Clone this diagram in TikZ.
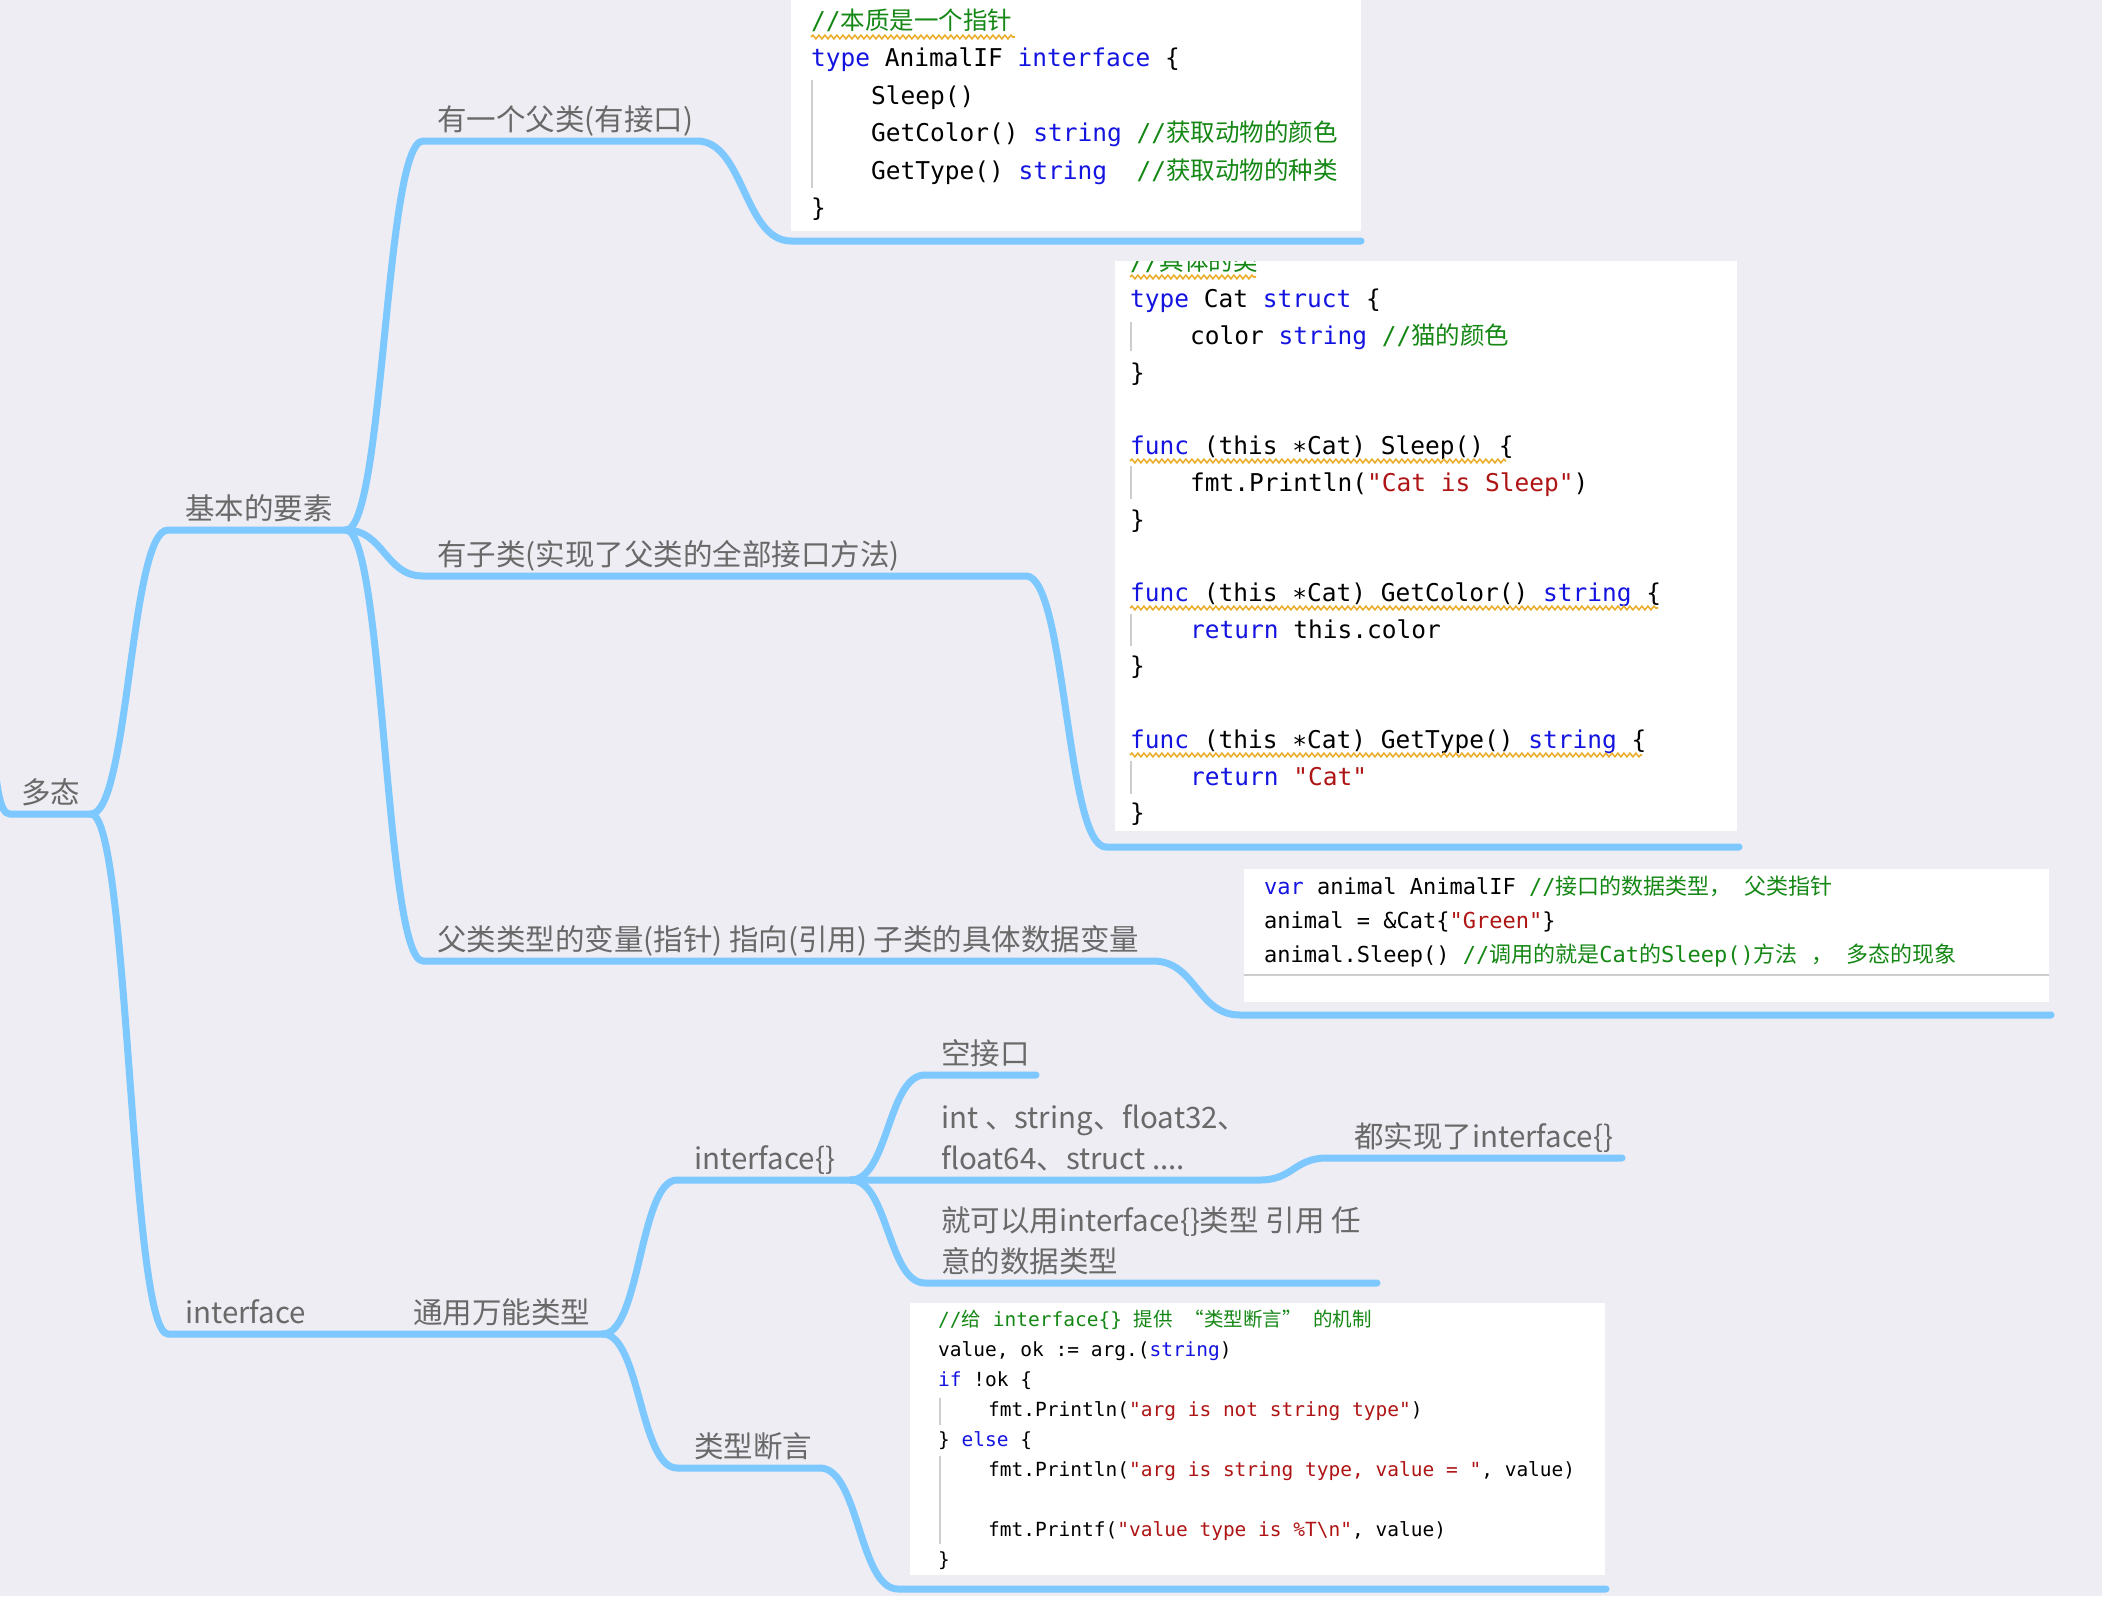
\documentclass[tikz,border=0pt]{standalone}
\usepackage{fontspec}
\usepackage{tikz}
\usetikzlibrary{decorations.pathmorphing}
\setmonofont{DejaVu Sans Mono}
\newfontfamily\cjk{Noto Sans CJK SC}
\definecolor{bgpage}{RGB}{237,237,243}
\definecolor{branch}{RGB}{125,200,255}
\definecolor{labelgray}{RGB}{105,105,105}
\definecolor{kwblue}{RGB}{20,20,225}
\definecolor{cmtgreen}{RGB}{20,135,20}
\definecolor{strred}{RGB}{175,20,20}
\definecolor{guide}{RGB}{205,205,205}
\definecolor{squig}{RGB}{235,175,45}
\newcommand\kwd[1]{\textcolor{kwblue}{#1}}
\newcommand\cmnt[1]{\textcolor{cmtgreen}{#1}}
\newcommand\strg[1]{\textcolor{strred}{#1}}
\newcommand\zh[1]{{\cjk #1}}
\tikzset{
  br/.style={draw=branch, line width=7pt, line cap=round},
  lbl/.style={anchor=base west, inner sep=0pt, text=labelgray, align=left,
    font=\cjk\fontsize{29.5}{41}\selectfont},
  codeA/.style={anchor=base west, inner sep=0pt, font=\ttfamily\fontsize{24.5}{30}\selectfont},
  codeB/.style={codeA, font=\ttfamily\fontsize{22}{26}\selectfont},
  codeC/.style={codeA, font=\ttfamily\fontsize{19.5}{24}\selectfont},
  squiggle/.style={draw=squig, line width=1.6pt, decorate,
    decoration={snake, amplitude=1.8pt, segment length=6pt}},
  guideline/.style={draw=guide, line width=1.5pt},
}
\begin{document}
\begin{tikzpicture}[x=1pt, y=-1pt]
  \fill[bgpage] (0,0) rectangle (2102,1596);
  \useasboundingbox (0,0) rectangle (2102,1596);

  % code boxes
  \fill[white] (791,0) rectangle (1361,231);
  \fill[white] (1115,261) rectangle (1737,831);
  \fill[white] (1244,869) rectangle (2049,1002);
  \draw[guideline] (1244,975) -- (2049,975);
  \fill[white] (910,1303) rectangle (1605,1575);

  % branch end points
  \coordinate (root-in) at (-8,730);
  \coordinate (root-l) at (10,814);   \coordinate (root-r) at (91,814);
  \coordinate (jb-l) at (168,530);    \coordinate (jb-r) at (346,530);
  \coordinate (fl-l) at (423,141);    \coordinate (fl-r) at (697,141);
  \coordinate (b1-l) at (791,241);    \coordinate (b1-r) at (1361,241);
  \coordinate (zl-l) at (423,576);    \coordinate (zl-r) at (1026,576);
  \coordinate (b2-l) at (1106,847);   \coordinate (b2-r) at (1739,847);
  \coordinate (bl-l) at (423,961);    \coordinate (bl-r) at (1153,961);
  \coordinate (b3-l) at (1240,1015);  \coordinate (b3-r) at (2051,1015);
  \coordinate (if-l) at (168,1334);   \coordinate (if-r) at (603,1334);
  \coordinate (ie-l) at (677,1180);   \coordinate (ie-r) at (851,1180);
  \coordinate (dy-l) at (677,1468);   \coordinate (dy-r) at (820,1468);
  \coordinate (b4-l) at (898,1589);   \coordinate (b4-r) at (1606,1589);
  \coordinate (kk-l) at (925,1075);   \coordinate (kk-r) at (1036,1075);
  \coordinate (it-l) at (925,1180);   \coordinate (it-r) at (1260,1180);
  \coordinate (ds-l) at (1327,1158);  \coordinate (ds-r) at (1622,1158);
  \coordinate (ry-l) at (925,1283);   \coordinate (ry-r) at (1377,1283);

  % branches
  \draw[br] (root-in) .. controls +(4,60) and +(-10,0) .. (root-l) -- (root-r);
  \draw[br] (root-r) .. controls +(38,0) and +(-38,0) .. (jb-l) -- (jb-r);
  \draw[br] (root-r) .. controls +(38,0) and +(-38,0) .. (if-l) -- (if-r);
  \draw[br] (jb-r) .. controls +(38,0) and +(-38,0) .. (fl-l) -- (fl-r)
    .. controls +(47,0) and +(-47,0) .. (b1-l) -- (b1-r);
  \draw[br] (jb-r) .. controls +(38,0) and +(-38,0) .. (zl-l) -- (zl-r)
    .. controls +(40,0) and +(-40,0) .. (b2-l) -- (b2-r);
  \draw[br] (jb-r) .. controls +(38,0) and +(-38,0) .. (bl-l) -- (bl-r)
    .. controls +(43,0) and +(-43,0) .. (b3-l) -- (b3-r);
  \draw[br] (if-r) .. controls +(37,0) and +(-37,0) .. (ie-l) -- (ie-r);
  \draw[br] (if-r) .. controls +(37,0) and +(-37,0) .. (dy-l) -- (dy-r)
    .. controls +(39,0) and +(-39,0) .. (b4-l) -- (b4-r);
  \draw[br] (ie-r) .. controls +(37,0) and +(-37,0) .. (kk-l) -- (kk-r);
  \draw[br] (ie-r) -- (it-l) -- (it-r)
    .. controls +(33,0) and +(-33,0) .. (ds-l) -- (ds-r);
  \draw[br] (ie-r) .. controls +(37,0) and +(-37,0) .. (ry-l) -- (ry-r);

  % labels
  \node[lbl] (duotai) at (21,803) {多态};
  \node[lbl] (jiben) at (185,519) {基本的要素};
  \node[lbl] (fulei) at (437,130) {有一个父类(有接口)};
  \node[lbl] (zilei) at (437,565) {有子类(实现了父类的全部接口方法)};
  \node[lbl] (bianliang) at (437,950) {父类类型的变量(指针) 指向(引用) 子类的具体数据变量};
  \node[lbl] (iface) at (185,1323) {interface};
  \node[lbl] (tongyong) at (413,1323) {通用万能类型};
  \node[lbl] (iempty) at (694,1169) {interface\{\}};
  \node[lbl] (duanyan) at (694,1457) {类型断言};
  \node[lbl] (kong) at (941,1064) {空接口};
  \node[lbl] (types) at (941,1169) {int 、string、float32、\\float64、struct ....};
  \node[lbl] (doushi) at (1354,1147) {都实现了interface\{\}};
  \node[lbl] (renyi) at (941,1272) {就可以用interface\{\}类型 引用 任\\意的数据类型};

  % code: AnimalIF
  \node[codeA] (c1a) at (811,29) {\cmnt{//\zh{本质是一个指针}}};
  \node[codeA] (c1b) at (811,66.5) {\kwd{type} AnimalIF \kwd{interface} \{};
  \node[codeA] (c1c) at (871,104) {Sleep()};
  \node[codeA] (c1d) at (871,141.5) {GetColor() \kwd{string} \cmnt{//\zh{获取动物的颜色}}};
  \node[codeA] (c1e) at (871,179) {GetType() \kwd{string}\ \ \cmnt{//\zh{获取动物的种类}}};
  \node[codeA] (c1f) at (811,216.5) {\}};
  \draw[squiggle] (811,37) -- (1015,37);
  \draw[guideline] (812,80) -- (812,188);

  % code: Cat
  \begin{scope}
    \clip (1115,261) rectangle (1737,831);
    \node[codeA] (c2z) at (1130,270) {\cmnt{//\zh{具体的类}}};
  \end{scope}
  \node[codeA] (c2a) at (1130,307) {\kwd{type} Cat \kwd{struct} \{};
  \node[codeA] (c2b) at (1190,344) {color \kwd{string} \cmnt{//\zh{猫的颜色}}};
  \node[codeA] (c2c) at (1130,381) {\}};
  \node[codeA] (c2d) at (1130,454) {\kwd{func} (this ∗Cat) Sleep() \{};
  \node[codeA] (c2e) at (1190,491) {fmt.Println(\strg{"Cat is Sleep"})};
  \node[codeA] (c2f) at (1130,528) {\}};
  \node[codeA] (c2g) at (1130,601) {\kwd{func} (this ∗Cat) GetColor() \kwd{string} \{};
  \node[codeA] (c2h) at (1190,638) {\kwd{return} this.color};
  \node[codeA] (c2i) at (1130,674) {\}};
  \node[codeA] (c2j) at (1130,748) {\kwd{func} (this ∗Cat) GetType() \kwd{string} \{};
  \node[codeA] (c2k) at (1190,785) {\kwd{return} \strg{"Cat"}};
  \node[codeA] (c2l) at (1130,821) {\}};
  \draw[squiggle] (1130,277) -- (1256,277);
  \draw[squiggle] (1130,461) -- (1506,461);
  \draw[squiggle] (1130,608) -- (1658,608);
  \draw[squiggle] (1130,755) -- (1642,755);
  \draw[guideline] (1131,322) -- (1131,351);
  \draw[guideline] (1131,466) -- (1131,499);
  \draw[guideline] (1131,614) -- (1131,646);
  \draw[guideline] (1131,761) -- (1131,794);

  % code: animal
  \node[codeB] (c3a) at (1264,894) {\kwd{var} animal AnimalIF \cmnt{//\zh{接口的数据类型，} \zh{父类指针}}};
  \node[codeB] (c3b) at (1264,928) {animal = \&Cat\{\strg{"Green"}\}};
  \node[codeB] (c3c) at (1264,962) {animal.Sleep() \cmnt{//\zh{调用的就是}Cat\zh{的}Sleep()\zh{方法} \zh{，} \zh{多态的现象}}};

  % code: assertion
  \node[codeC] (c4a) at (938,1326) {\cmnt{//\zh{给} interface\{\} \zh{提供} \zh{“类型断言”} \zh{的机制}}};
  \node[codeC] (c4b) at (938,1356) {value, ok := arg.(\kwd{string})};
  \node[codeC] (c4c) at (938,1386) {\kwd{if} !ok \{};
  \node[codeC] (c4d) at (988,1416) {fmt.Println(\strg{"arg is not string type"})};
  \node[codeC] (c4e) at (938,1446) {\} \kwd{else} \{};
  \node[codeC] (c4f) at (988,1476) {fmt.Println(\strg{"arg is string type, value = "}, value)};
  \node[codeC] (c4g) at (988,1536) {fmt.Printf(\strg{"value type is \%T\textbackslash n"}, value)};
  \node[codeC] (c4h) at (938,1566) {\}};
  \draw[guideline] (940,1398) -- (940,1425);
  \draw[guideline] (940,1456) -- (940,1544);
\end{tikzpicture}
\end{document}
